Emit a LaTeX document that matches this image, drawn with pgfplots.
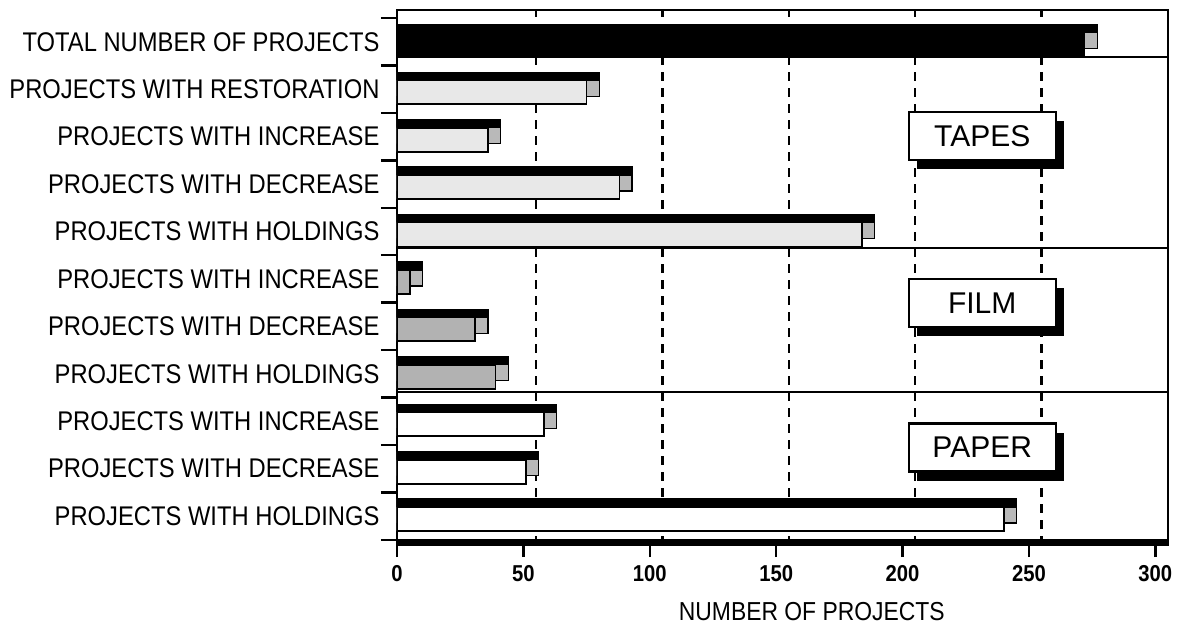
\documentclass[border=0pt]{standalone}
\usepackage{fontspec}
\setmainfont[FakeStretch=0.88]{Liberation Sans}
\newfontfamily\boxfont{Liberation Sans}
\usepackage{pgfplots}
\usepackage{pgfplotstable}
\pgfplotsset{compat=1.18}
\usetikzlibrary{calc,shadows}

\pgfplotstableread{
y v
10 272
}\total
\pgfplotstableread{
y v
9 75
8 36
7 88
6 184
}\tapes
\pgfplotstableread{
y v
5 5
4 31
3 39
}\film
\pgfplotstableread{
y v
2 58
1 51
0 240
}\paper

\pgfplotsset{
  sideface/.style={xbar, bar width=24pt, bar shift=5pt, fill=gray!55, draw=black, line width=1.2pt, forget plot},
  topface/.style={xbar, bar width=8pt, bar shift=13pt, fill=black, draw=black, line width=1.2pt, forget plot},
  frontface/.style={xbar, bar width=24pt, bar shift=-3pt, draw=black, line width=1.8pt, forget plot},
}
\tikzset{
  lbox/.style={draw=black, line width=2.2pt, fill=white, minimum width=147pt, minimum height=48pt,
        font=\boxfont\fontsize{30}{32}\selectfont, anchor=west,
        drop shadow={shadow xshift=8pt, shadow yshift=-9pt, opacity=1, fill=black}},
}

\begin{document}
\begin{tikzpicture}
\begin{axis}[
  scale only axis, width=771pt, height=535pt,
  xmin=0, xmax=305, ymin=-0.61, ymax=10.67,
  axis line style={line width=2.5pt},
  xtick={0,50,...,300},
  xtick pos=bottom, ytick pos=left,
  tick align=outside,
  major tick length=12pt,
  minor tick length=16pt,
  every tick/.style={line width=2.5pt, black},
  ytick={0,...,10},
  yticklabels={PROJECTS WITH HOLDINGS, PROJECTS WITH DECREASE, PROJECTS WITH INCREASE, PROJECTS WITH HOLDINGS, PROJECTS WITH DECREASE, PROJECTS WITH INCREASE, PROJECTS WITH HOLDINGS, PROJECTS WITH DECREASE, PROJECTS WITH INCREASE, PROJECTS WITH RESTORATION, TOTAL NUMBER OF PROJECTS},
  major y tick style={draw=none},
  minor ytick={-0.5,0.5,...,10.5},
  extra x ticks={55,105,155,205,255},
  extra x tick labels={},
  extra x tick style={grid=major, major grid style={line width=2.4pt, dash pattern=on 9pt off 7pt, black}, major tick length=0pt},
  extra y ticks={9.68,5.65,2.62},
  extra y tick labels={},
  extra y tick style={grid=major, major grid style={line width=1.6pt, black}, major tick length=0pt},
  /pgf/number format/assume math mode=true,
  yticklabel style={font=\fontsize{27}{30}\selectfont, xshift=-2pt},
  xticklabel style={font=\fontsize{23}{26}\selectfont\bfseries, yshift=-5pt},
  xlabel={NUMBER OF PROJECTS},
  xlabel style={font=\fontsize{26}{30}\selectfont, at={(rel axis cs:0.538,0)}, anchor=center, yshift=-67pt},
]
\coordinate (bl) at (rel axis cs:0,0);
\coordinate (tr) at (rel axis cs:1,1);

\addplot[sideface] table[x expr=\thisrow{v}+5, y=y] {\total};
\addplot[topface] table[x expr=\thisrow{v}+5, y=y] {\total};
\addplot[frontface, fill=black] table[x=v, y=y] {\total};

\addplot[sideface] table[x expr=\thisrow{v}+5, y=y] {\tapes};
\addplot[topface] table[x expr=\thisrow{v}+5, y=y] {\tapes};
\addplot[frontface, fill=gray!18] table[x=v, y=y] {\tapes};

\addplot[sideface] table[x expr=\thisrow{v}+5, y=y] {\film};
\addplot[topface] table[x expr=\thisrow{v}+5, y=y] {\film};
\addplot[frontface, fill=gray!60] table[x=v, y=y] {\film};

\addplot[sideface] table[x expr=\thisrow{v}+5, y=y] {\paper};
\addplot[topface] table[x expr=\thisrow{v}+5, y=y] {\paper};
\addplot[frontface, fill=white] table[x=v, y=y] {\paper};

\draw[line width=6pt] ([yshift=3pt]rel axis cs:0,0) -- ([yshift=3pt]rel axis cs:1,0);

\node[lbox] at (axis cs:202,8.02) {TAPES};
\node[lbox] at (axis cs:202,4.49) {FILM};
\node[lbox] at (axis cs:202,1.445) {PAPER};
\end{axis}
\pgfresetboundingbox
\path ($(bl)+(-397pt,-86pt)$) rectangle ($(tr)+(9pt,10pt)$);
\end{tikzpicture}
\end{document}
